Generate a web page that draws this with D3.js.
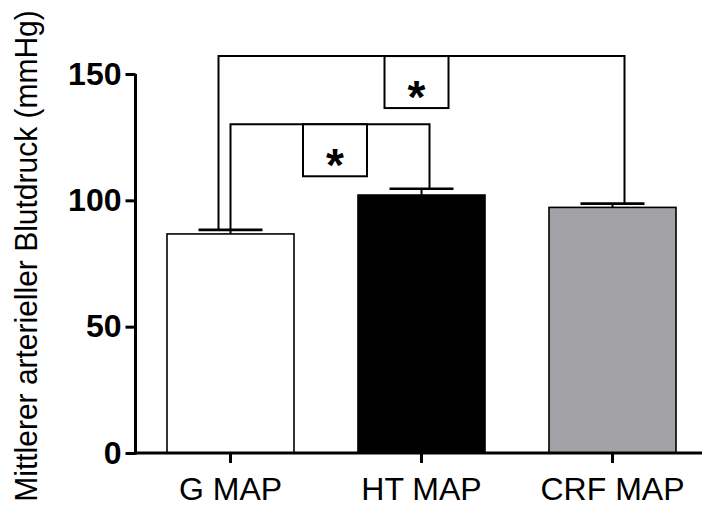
<!DOCTYPE html>
<html>
<head>
<meta charset="utf-8">
<script src="https://cdn.jsdelivr.net/npm/d3@7/dist/d3.min.js"></script>
<style>
  html, body { margin: 0; padding: 0; background: #fff; }
  svg { display: block; font-family: Arial, "Liberation Sans", sans-serif; }
</style>
</head>
<body>
<svg id="chart" width="702" height="515"></svg>
<script>
// Mean arterial pressure per group (mmHg), mean ± SEM
const categories = ["G MAP", "HT MAP", "CRF MAP"];
const means = [86.7, 102.1, 97.2];
const sems = [1.6, 2.5, 1.5];
const barFills = ["#ffffff", "#000000", "#a2a1a6"];
const yTicks = [0, 50, 100, 150];
const yTitle = "Mittlerer arterieller Blutdruck (mmHg)";

// Significance brackets: pair of group indices, bracket height (mmHg), label
const compPairs = [[0, 1], [0, 2]];
const compLevels = [130.1, 157.1];
const compLabels = ["*", "*"];

const svg = d3.select("#chart");

const x = d3.scaleBand()
  .domain(categories)
  .range([135, 708])
  .paddingInner(0.335)
  .paddingOuter(0.1675);

const y = d3.scaleLinear().domain([0, 150]).range([453, 74]);

// Bars
svg.append("g").selectAll("rect")
  .data(categories)
  .join("rect")
  .attr("x", d => x(d))
  .attr("y", (d, i) => y(means[i]))
  .attr("width", x.bandwidth())
  .attr("height", (d, i) => y(0) - y(means[i]))
  .attr("fill", (d, i) => barFills[i])
  .attr("stroke", "#000")
  .attr("stroke-width", 1.6);

// Error bars (upper only)
const capHalf = 32;
const eb = svg.append("g").attr("stroke", "#000");
categories.forEach((c, i) => {
  const cx = x(c) + x.bandwidth() / 2;
  eb.append("line")
    .attr("x1", cx).attr("x2", cx)
    .attr("y1", y(means[i])).attr("y2", y(means[i] + sems[i]))
    .attr("stroke-width", 2);
  eb.append("line")
    .attr("x1", cx - capHalf).attr("x2", cx + capHalf)
    .attr("y1", y(means[i] + sems[i])).attr("y2", y(means[i] + sems[i]))
    .attr("stroke-width", 2.6);
});

// Y axis
const yAxis = svg.append("g")
  .attr("transform", "translate(135.5,0)")
  .call(d3.axisLeft(y).tickValues(yTicks).tickSize(10).tickPadding(4));
yAxis.select(".domain").attr("d", `M0,${y(150)}V${y(0) + 1.5}`).attr("stroke-width", 3);
yAxis.selectAll(".tick line").attr("stroke-width", 3);
yAxis.selectAll(".tick text")
  .attr("font-family", "Arial, 'Liberation Sans', sans-serif")
  .attr("font-size", 32)
  .attr("font-weight", "bold")
  .attr("fill", "#000");

// X axis
const xAxis = svg.append("g")
  .attr("transform", `translate(0,${y(0)})`)
  .call(d3.axisBottom(x).tickSize(10).tickPadding(14).tickSizeOuter(0));
xAxis.select(".domain").attr("d", "M134,0H702").attr("stroke-width", 3);
xAxis.selectAll(".tick line").attr("stroke-width", 3);
xAxis.selectAll(".tick text")
  .attr("font-family", "Arial, 'Liberation Sans', sans-serif")
  .attr("font-size", 32)
  .attr("fill", "#000");

// Y axis title
svg.append("text")
  .attr("transform", "translate(37,256) rotate(-90) scale(1,1.07)")
  .attr("text-anchor", "middle")
  .attr("font-size", 30)
  .attr("fill", "#000")
  .text(yTitle);

// Significance brackets with boxed labels
const legOffsets = [[0, 8], [-12, 12]];
const boxShift = [5, -5];
const boxW = 64, boxH = 52;
const br = svg.append("g");
compPairs.forEach(([a, b], k) => {
  const xa = x(categories[a]) + x.bandwidth() / 2 + legOffsets[k][0];
  const xb = x(categories[b]) + x.bandwidth() / 2 + legOffsets[k][1];
  const top = y(compLevels[k]);
  br.append("path")
    .attr("d", `M${xa},${y(means[a] + sems[a])}V${top}H${xb}V${y(means[b] + sems[b])}`)
    .attr("fill", "none")
    .attr("stroke", "#000")
    .attr("stroke-width", 2);
  const mx = (xa + xb) / 2 + boxShift[k];
  br.append("rect")
    .attr("x", mx - boxW / 2).attr("y", top)
    .attr("width", boxW).attr("height", boxH)
    .attr("fill", "#fff").attr("stroke", "#000").attr("stroke-width", 2);
  br.append("text")
    .attr("x", mx).attr("y", top + boxH / 2 + 31)
    .attr("text-anchor", "middle")
    .attr("font-size", 46)
    .attr("font-weight", "bold")
    .text(compLabels[k]);
});
</script>
</body>
</html>
